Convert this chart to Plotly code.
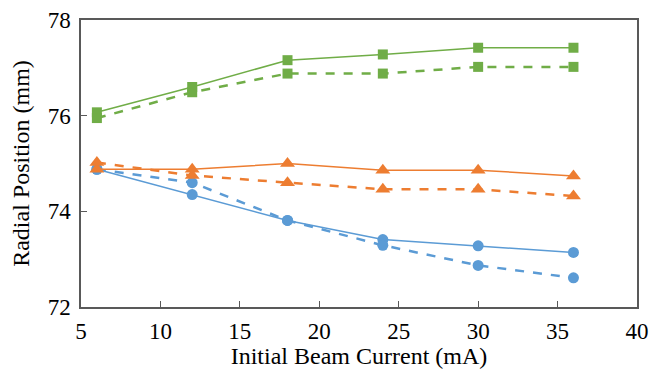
import plotly.graph_objects as go

current = [6, 12, 18, 24, 30, 36]
blue_solid = [74.88, 74.35, 73.81, 73.41, 73.28, 73.14]
blue_dash = [74.88, 74.60, 73.81, 73.29, 72.87, 72.61]
orange_solid = [74.88, 74.88, 75.00, 74.86, 74.86, 74.74]
orange_dash = [75.02, 74.75, 74.60, 74.46, 74.46, 74.32]
green_solid = [76.07, 76.60, 77.16, 77.28, 77.42, 77.42]
green_dash = [75.95, 76.49, 76.88, 76.88, 77.02, 77.02]

BLUE = "#5B9BD5"
ORANGE = "#ED7D31"
GREEN = "#70AD47"

series = [
    (blue_solid, BLUE, "solid", "circle", 11, 1.5),
    (blue_dash, BLUE, "dash", "circle", 11, 2.5),
    (orange_solid, ORANGE, "solid", "triangle-up", 13, 1.5),
    (orange_dash, ORANGE, "dash", "triangle-up", 13, 2.5),
    (green_solid, GREEN, "solid", "square", 10, 1.5),
    (green_dash, GREEN, "dash", "square", 10, 2.5),
]

fig = go.Figure()
for ys, col, dash, sym, ms, lw in series:
    fig.add_trace(go.Scatter(
        x=current, y=ys, mode="lines+markers",
        line=dict(color=col, width=lw, dash=dash),
        marker=dict(color=col, symbol=sym, size=ms),
        showlegend=False,
    ))

FAMILY = "Liberation Serif, serif"
TICKFONT = dict(family=FAMILY, size=23, color="black")
TITLEFONT = dict(family=FAMILY, size=24, color="black")
fig.update_layout(
    width=652, height=369,
    margin=dict(l=81, r=15, t=20, b=62, autoexpand=False),
    paper_bgcolor="white", plot_bgcolor="white",
    font=dict(family=FAMILY, size=23, color="black"),
)
fig.update_xaxes(
    range=[5, 40], tickvals=[5, 10, 15, 20, 25, 30, 35, 40],
    showgrid=False, zeroline=False, automargin=False,
    showline=True, linecolor="#595959", linewidth=1.5, mirror=True,
    ticks="inside", ticklen=6, tickcolor="#595959",
    ticklabelstandoff=3, tickfont=TICKFONT,
    title=dict(text="Initial Beam Current (mA)", standoff=5, font=TITLEFONT),
)
fig.update_yaxes(
    range=[72, 78], tickvals=[72, 74, 76, 78],
    showgrid=False, zeroline=False, automargin=False,
    showline=True, linecolor="#595959", linewidth=1.5, mirror=True,
    ticks="inside", ticklen=6, tickcolor="#595959",
    ticklabelstandoff=4, tickfont=TICKFONT,
    title=dict(text="Radial Position (mm)", standoff=11, font=TITLEFONT),
)
fig.write_html(
    "out.html",
    config={"displayModeBar": False},
    post_script="document.body.style.margin='0';document.body.style.overflow='hidden';",
)
